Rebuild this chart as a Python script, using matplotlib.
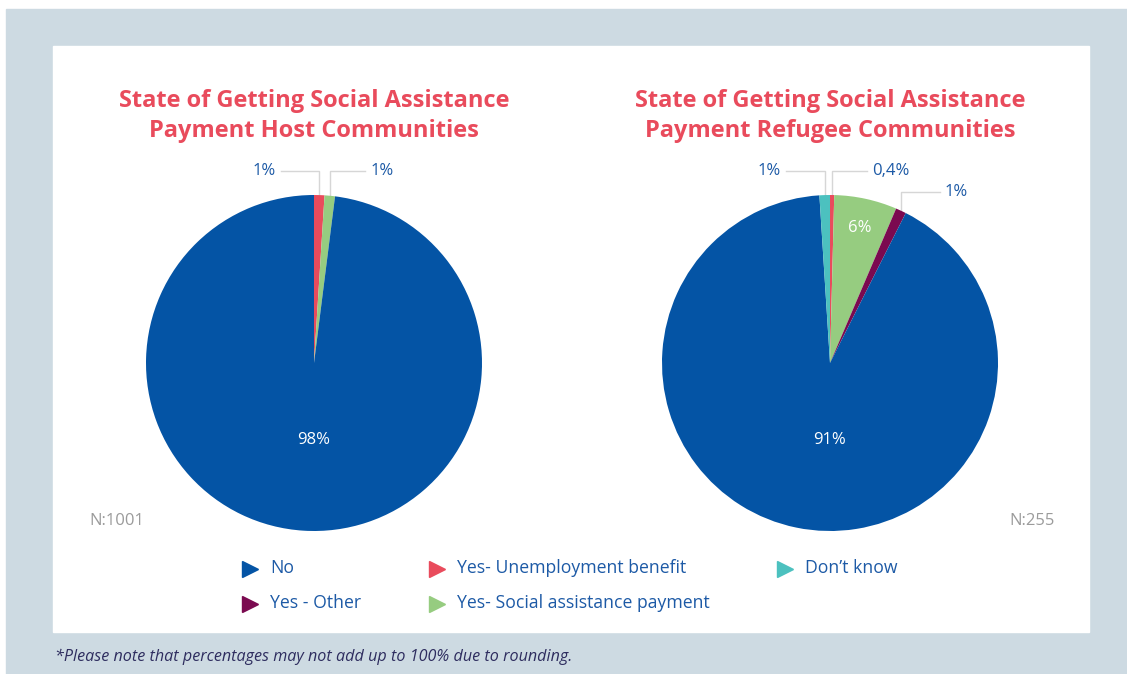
import matplotlib.pyplot as plt
import numpy as np
from matplotlib.patches import Rectangle

plt.rcParams['font.family'] = ['Open Sans', 'DejaVu Sans']

# categories in the order the wedges run clockwise from 12 o'clock
categories = ["Yes- Unemployment benefit", "Yes- Social assistance payment",
              "Yes - Other", "No", "Don\u2019t know"]
colors = ["#e94b5c", "#96cc80", "#7b0a50", "#0454a5", "#4cc1bf"]

host_values = [1, 1, 0, 98, 0]
host_labels = ["1%", "1%", "", "98%", ""]
refugee_values = [0.4, 6, 1, 91, 1]
refugee_labels = ["0,4%", "6%", "1%", "91%", "1%"]

legend_order = ["No", "Yes- Unemployment benefit", "Don\u2019t know",
                "Yes - Other", "Yes- Social assistance payment"]

W, H = 1127, 674
TEXT_BLUE = "#1d5aa6"
LINE_GREY = "#d6d6d6"

fig = plt.figure(figsize=(W / 100, H / 100), dpi=100)

# background in pixel coordinates
bg = fig.add_axes([0, 0, 1, 1], zorder=0)
bg.set_xlim(0, W)
bg.set_ylim(H, 0)
bg.axis('off')
bg.add_patch(Rectangle((6, 9), W - 6, H - 9, color="#cddae2"))
bg.add_patch(Rectangle((53, 46), 1089 - 53, 632 - 46, color="white"))


def pie_axes(cx, cy, r):
    ax = fig.add_axes([(cx - r) / W, (H - cy - r) / H, 2 * r / W, 2 * r / H], zorder=2)
    return ax


def draw_pie(ax, values, labels, title, callouts, inside):
    wedges, _ = ax.pie(values, colors=colors, startangle=90, counterclock=False,
                       radius=1, wedgeprops=dict(linewidth=0))
    # pie() widens the limits; pin them so the radius fills the axes
    ax.set_xlim(-1, 1)
    ax.set_ylim(-1, 1)
    ax.set_aspect('equal')
    ax.axis('off')
    for i, w in enumerate(wedges):
        if values[i] == 0:
            continue
        mid = np.deg2rad((w.theta1 + w.theta2) / 2)
        if i in callouts:
            side, ytop, length = callouts[i]
            x0, y0 = np.cos(mid), np.sin(mid)
            x1 = x0 + side * length
            ax.plot([x0, x0, x1], [y0, ytop, ytop], color=LINE_GREY, lw=1,
                    clip_on=False, zorder=0)
            ax.text(x1 + side * 0.03, ytop, labels[i], ha='left' if side > 0 else 'right',
                    va='center', fontsize=12, color=TEXT_BLUE)
        elif i in inside:
            d = inside[i]
            if d is None:
                x, y = 0, -0.46
            else:
                x, y = d * np.cos(mid), d * np.sin(mid)
            ax.text(x, y, labels[i], ha='center', va='center', fontsize=12, color="white")
    ax.text(0, 1.47, title, ha='center', va='center', fontsize=17,
            fontweight='bold', color="#e94b5c", linespacing=1.36)


ax1 = pie_axes(314, 363, 168)
draw_pie(ax1, host_values, host_labels,
         "State of Getting Social Assistance\nPayment Host Communities",
         callouts={0: (-1, 1.143, 0.23), 1: (1, 1.143, 0.21)},
         inside={3: None})

ax2 = pie_axes(830, 363, 168)
draw_pie(ax2, refugee_values, refugee_labels,
         "State of Getting Social Assistance\nPayment Refugee Communities",
         callouts={4: (-1, 1.143, 0.23), 0: (1, 1.143, 0.21), 2: (1, 1.018, 0.23)},
         inside={1: 0.82, 3: None})

# sample sizes
bg.text(89, 521, "N:1001", ha='left', va='center', fontsize=12, color="#9b9b9b")
bg.text(1055, 521, "N:255", ha='right', va='center', fontsize=12, color="#9b9b9b")

# legend laid out in rows of three
col_x = [250, 437, 785]
row_y = [569, 604]
for k, name in enumerate(legend_order):
    x = col_x[k % 3]
    y = row_y[k // 3]
    bg.plot(x, y, marker='>', markersize=12, color=colors[categories.index(name)],
            linestyle='none')
    bg.text(x + 20, y - 1, name, ha='left', va='center', fontsize=12.7, color=TEXT_BLUE)

bg.text(55, 657, "*Please note that percentages may not add up to 100% due to rounding.",
        ha='left', va='center', fontsize=11.6, style='italic', color="#2e2d5f")

fig.savefig("out.png", dpi=100, facecolor="white")
